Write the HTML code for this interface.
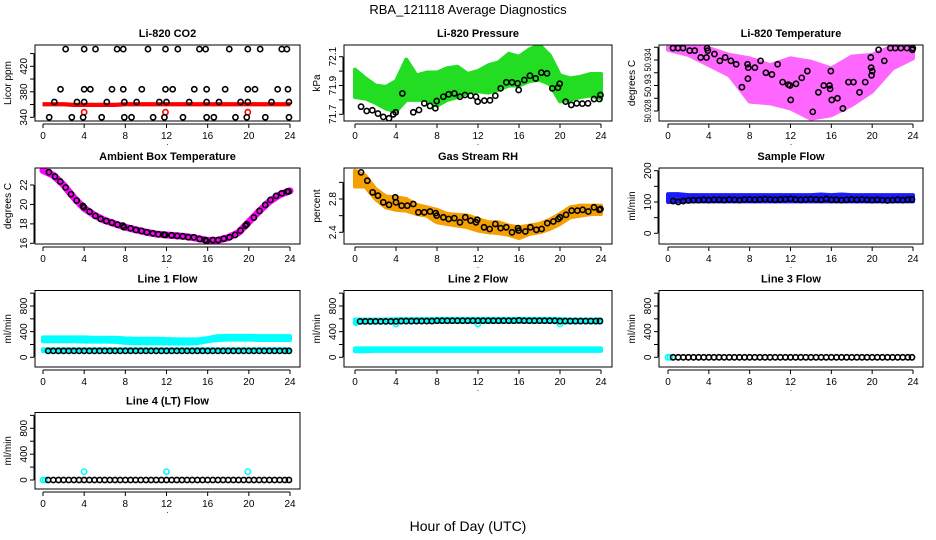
<!DOCTYPE html>
<html><head><meta charset="utf-8"><style>
html,body{margin:0;padding:0;background:#fff;}
svg{display:block;font-family:"Liberation Sans",sans-serif;}
</style></head><body>
<svg id="chart" width="936" height="540" viewBox="0 0 936 540" xmlns="http://www.w3.org/2000/svg">
<rect width="936" height="540" fill="#fff"/>
<text x="468" y="14" font-size="13" text-anchor="middle">RBA_121118  Average Diagnostics</text>
<text x="468" y="531" font-size="14" text-anchor="middle">Hour of Day (UTC)</text>
</svg>
<script>
// ---------- data ----------
const bandHours = [0,1,2,3,4,5,6,7,8,9,10,11,12,13,14,15,16,17,18,19,20,21,22,23,24];
const flowHours = [0.5,1,1.5,2,2.5,3,3.5,4,4.5,5,5.5,6,6.5,7,7.5,8,8.5,9,9.5,10,10.5,11,11.5,12,12.5,13,13.5,14,14.5,15,15.5,16,16.5,17,17.5,18,18.5,19,19.5,20,20.5,21,21.5,22,22.5,23,23.5,23.9];

// CO2
const co2TopHours = [2.2,4.0,5.1,7.2,7.8,10.2,11.9,13.1,15.2,15.8,18.1,19.9,21.1,23.2,23.7];
const co2TopVals = [447,447,447,447,447,447,447,447,447,447,447,447,447,447,447];
const co2UpHours = [1.7,4.0,4.6,6.7,7.8,9.6,11.9,12.6,14.7,15.9,17.7,19.9,20.6,22.8,23.8];
const co2UpVals = [384,384,384,384,384,384,384,384,384,384,384,384,384,384,384];
const co2MidHours = [1.1,3.3,4.0,6.2,7.9,9.1,11.3,12.0,14.2,15.9,17.1,19.2,19.9,22.2,23.9];
const co2MidVals = [364,364,364,364,364,364,364,364,364,364,364,364,364,364,364];
const co2LowHours = [0.6,2.8,3.9,5.7,7.9,8.6,10.7,11.8,13.6,15.9,16.6,18.7,19.8,21.6,23.9];
const co2LowVals = [340,340,340,340,340,340,340,340,340,340,340,340,340,340,340];
const co2RedUpper = [363,363,363,362,362,362,362,362,363,363,363,363,363,363,363,363,363,363,363,363,363,363,363,363,363];
const co2RedLower = [358,358,358,357,357,357,357,357,358,358,358,358,358,358,358,358,358,358,358,358,358,358,358,358,358];
const co2RedPtHours = [4.0,11.9,19.9];
const co2RedPtVals = [348,348,348];

// Pressure
const presUpper = [72.01,71.95,71.9,71.89,71.93,72.08,71.97,71.99,71.99,72.02,72.03,71.98,72.0,72.04,72.06,72.12,72.1,72.15,72.18,72.11,71.97,71.95,71.96,71.98,71.98];
const presLower = [71.82,71.81,71.78,71.74,71.72,71.8,71.8,71.8,71.76,71.8,71.82,71.85,71.86,71.85,71.87,71.9,71.9,71.93,71.94,71.91,71.79,71.8,71.82,71.83,71.81];
const presHours = [0.59,1.14,1.69,2.24,2.76,3.32,3.74,3.97,4.62,5.69,6.24,6.76,7.32,7.84,7.97,8.62,9.14,9.69,10.24,10.73,11.28,11.8,11.97,12.62,13.17,13.69,14.21,14.76,15.32,15.87,15.97,16.52,17.07,17.63,18.18,18.73,19.25,19.8,19.97,20.55,21.1,21.63,22.18,22.73,23.32,23.84,23.95];
const presVals = [71.753,71.723,71.728,71.705,71.682,71.672,71.70,71.714,71.845,71.714,71.73,71.776,71.758,71.742,71.792,71.822,71.839,71.845,71.822,71.834,71.829,71.822,71.788,71.795,71.797,71.829,71.88,71.922,71.922,71.915,71.869,71.938,71.968,71.949,71.989,71.984,71.88,71.885,71.912,71.788,71.765,71.776,71.774,71.776,71.806,71.806,71.834];

// Li-820 temperature
const tempBandHours = [0,2,4,6,8,10,12,14,16,18,20,22,24];
const tempUpper = [50.9356,50.9356,50.9354,50.9346,50.9342,50.9334,50.9342,50.9338,50.9330,50.9344,50.9346,50.9356,50.9356];
const tempLower = [50.9352,50.9346,50.9334,50.9322,50.9291,50.9289,50.9283,50.9271,50.9275,50.9287,50.9303,50.9330,50.9342];
const tempHours = [0.49,0.98,1.47,2.13,2.62,3.21,3.77,3.83,3.9,4.55,5.08,5.6,6.16,6.68,7.24,7.79,7.83,7.86,8.51,9.07,9.59,10.18,10.74,11.23,11.79,11.95,12.02,12.54,13.1,13.65,14.18,14.73,15.26,15.82,15.88,15.95,16.04,16.6,17.13,17.68,18.17,18.76,19.32,19.87,19.9,19.94,20.01,20.63,21.19,21.78,22.27,22.82,23.41,23.94,23.98];
const tempVals = [50.9354,50.9354,50.9354,50.9351,50.9351,50.9343,50.9343,50.9354,50.9351,50.9347,50.9339,50.9343,50.9339,50.9335,50.9308,50.9335,50.9318,50.9331,50.9331,50.9339,50.9325,50.9323,50.9335,50.9314,50.9311,50.9310,50.9293,50.9312,50.9319,50.9327,50.9279,50.9302,50.9310,50.9310,50.9306,50.9327,50.9293,50.9295,50.9283,50.9314,50.9314,50.9302,50.9314,50.9343,50.9331,50.9322,50.9327,50.9352,50.9339,50.9354,50.9354,50.9354,50.9354,50.9352,50.9354];

// Ambient box temperature
const ambBand = [23.5,23.0,22.0,20.7,19.6,18.9,18.35,18.0,17.65,17.4,17.15,16.95,16.85,16.78,16.68,16.5,16.3,16.32,16.58,17.1,18.2,19.3,20.3,21.0,21.4];
const ambHours = [0.58,1.17,1.68,2.2,2.72,3.27,3.88,3.98,4.53,5.08,5.6,6.15,6.7,7.25,7.77,7.86,8.51,9.03,9.58,10.1,10.68,11.2,11.75,11.88,12.49,13.04,13.59,14.11,14.66,15.21,15.76,15.89,16.5,17.02,17.57,18.12,18.67,19.19,19.68,19.81,20.49,21.04,21.59,22.1,22.65,23.2,23.72,23.85];
const ambVals = [23.32,22.87,22.36,21.74,21.05,20.4,19.85,19.71,19.26,18.82,18.51,18.3,18.13,17.92,17.82,17.65,17.55,17.37,17.27,17.13,17.03,16.93,16.89,16.86,16.82,16.76,16.72,16.62,16.62,16.45,16.34,16.24,16.34,16.34,16.48,16.62,16.86,17.31,17.82,17.96,18.65,19.33,19.95,20.47,20.88,21.15,21.33,21.33];

// Gas stream RH
const rhUpper = [3.14,3.08,2.92,2.83,2.82,2.8,2.73,2.7,2.67,2.62,2.61,2.6,2.56,2.52,2.52,2.48,2.46,2.48,2.5,2.55,2.62,2.7,2.72,2.72,2.72];
const rhLower = [2.95,2.95,2.8,2.7,2.67,2.66,2.62,2.6,2.52,2.5,2.48,2.46,2.42,2.4,2.39,2.37,2.33,2.38,2.4,2.44,2.5,2.58,2.6,2.62,2.62];
const rhHours = [0.59,1.2,1.72,2.24,2.76,3.32,3.93,4.0,4.55,5.1,5.69,6.18,6.76,7.32,7.87,7.97,8.62,9.14,9.69,10.24,10.76,11.28,11.8,11.93,12.59,13.14,13.69,14.21,14.76,15.32,15.9,15.97,16.62,17.11,17.69,18.21,18.76,19.35,19.84,20.0,20.59,21.14,21.69,22.21,22.76,23.32,23.84,23.95];
const rhVals = [3.12,3.02,2.88,2.84,2.76,2.73,2.82,2.76,2.72,2.72,2.74,2.64,2.64,2.65,2.63,2.6,2.58,2.56,2.57,2.52,2.58,2.54,2.52,2.55,2.46,2.44,2.5,2.45,2.46,2.4,2.45,2.42,2.41,2.46,2.43,2.44,2.51,2.53,2.56,2.58,2.61,2.66,2.66,2.67,2.65,2.7,2.67,2.68];

// Sample flow
const sampleUpper = [125,125,122,122,122,122,122,122,122,122,122,122,122,122,122,124,122,124,122,122,122,122,122,122,122];
const sampleLower = [100,102,102,102,102,102,102,102,102,102,102,102,102,102,102,102,102,102,102,102,102,102,102,102,102];
const sampleVals = [103,100,103,105,106,106,107,106,107,107,106,108,107,106,108,108,107,108,109,108,107,108,109,110,108,107,108,109,108,107,110,107,107,106,107,108,107,108,107,106,107,106,105,106,107,106,108,108];

// Line flows
const line1CyanUpper = [310,310,310,310,310,305,305,305,295,290,290,290,285,280,280,280,300,330,335,335,335,330,330,330,330];
const line1CyanLower = [250,250,250,250,245,245,245,240,225,220,220,220,215,215,215,220,250,270,275,275,275,270,270,270,270];
const line1LowUpper = [125,125,125,125,125,125,125,125,125,125,125,125,125,125,125,125,125,125,125,125,125,125,125,125,125];
const line1LowLower = [95,95,95,95,95,95,95,95,95,95,95,95,95,95,95,95,95,95,95,95,95,95,95,95,95];
const line1Black = [100,100,100,100,100,100,100,100,100,100,100,100,100,100,100,100,100,100,100,100,100,100,100,100,100,100,100,100,100,100,100,100,100,100,100,100,100,100,100,100,100,100,100,100,100,100,100,100];

const line2CyanUpper = [590,590,590,590,595,595,595,595,600,600,600,600,600,600,600,600,600,600,600,600,595,590,590,590,590];
const line2CyanLower = [540,545,545,545,545,545,550,550,550,550,550,550,550,550,550,550,550,550,550,550,545,545,545,545,545];
const line2LowUpper = [140,140,140,140,140,140,140,140,140,140,140,140,140,140,140,140,140,140,140,140,140,140,140,140,140];
const line2LowLower = [95,95,100,100,100,100,100,100,100,100,100,100,100,100,100,100,100,100,100,100,100,100,100,100,100];
const line2DipHours = [0.1,4.0,12.0,20.0];
const line2DipVals = [540,520,520,520];
const line2Black = [560,560,560,560,560,560,560,560,565,565,565,565,565,565,565,570,570,570,570,570,570,570,570,570,570,570,570,570,570,570,570,575,570,570,570,570,570,570,570,565,565,565,565,565,565,565,565,565];

const line3Black = [0,0,0,0,0,0,0,0,0,0,0,0,0,0,0,0,0,0,0,0,0,0,0,0,0,0,0,0,0,0,0,0,0,0,0,0,0,0,0,0,0,0,0,0,0,0,0,0];
const line3CyanHours = [0,0.2];
const line3CyanVals = [0,0];

const line4Black = [0,0,0,0,0,0,0,0,0,0,0,0,0,0,0,0,0,0,0,0,0,0,0,0,0,0,0,0,0,0,0,0,0,0,0,0,0,0,0,0,0,0,0,0,0,0,0,0];
const line4CyanHours = [0,0.2,4.0,12.0,19.9];
const line4CyanVals = [0,0,130,130,130];

// tick arrays
const xTicks = [0,4,8,12,16,20,24];
const co2Ticks = [340,360,380,400,420,440];
const co2Labels = [340,380,420];
const presTicks = [71.7,71.8,71.9,72.0,72.1];
const presLabels = [71.7,71.9,72.1];
const tempTicks = [50.928,50.9295,50.931,50.9325,50.934,50.9355];
const tempLabels = [50.928,50.931,50.934];
const tempLabelText = ["50.928","50.93","50.934"];
const ambTicks = [16,18,20,22];
const rhTicks = [2.4,2.6,2.8,3.0];
const rhLabels = [2.4,2.8];
const sampleTicks = [0,50,100,150,200];
const sampleLabels = [0,100,200];
const flowTicks = [0,200,400,600,800,1000];
const flowLabels = [0,400,800];

// ---------- drawing ----------
const NS = "http://www.w3.org/2000/svg";
const svg = document.getElementById("chart");
const colL = [35,344,659], colR = [300,612,923], colX0 = [43,355,668], colX24 = [290,601,913];
const rowT = [45,168,290.5,412.5], rowB = [121,244,367,489];

function mk(tag, attrs, parent) {
  const e = document.createElementNS(NS, tag);
  for (const k in attrs) e.setAttribute(k, attrs[k]);
  (parent || svg).appendChild(e);
  return e;
}

function panel(name, col, row, title, ylab, cal, ticks, labels, labelText) {
  const g = mk("g", {});
  
  
  const L = colL[col], R = colR[col], T = rowT[row], B = rowB[row];
  const x = h => colX0[col] + (colX24[col] - colX0[col]) * h / 24;
  const y = v => cal[1] + (cal[3] - cal[1]) * (v - cal[0]) / (cal[2] - cal[0]);
  const t = mk("text", {x: (L + R) / 2, y: T - 8, "font-size": 11, "font-weight": "bold", "text-anchor": "middle"}, g);
  t.textContent = title;
  
  
  const yt = mk("text", {transform: `translate(${L - 24},${(T + B) / 2}) rotate(-90)`, "font-size": 10, "text-anchor": "middle"}, g);
  yt.textContent = ylab;
  
  
  const xa = mk("g", {stroke: "#000", "stroke-width": 1}, g);
  
  
  mk("line", {x1: x(xTicks[0]), x2: x(xTicks[xTicks.length - 1]), y1: B + 3, y2: B + 3}, xa);
  xTicks.forEach(v => {
    mk("line", {x1: x(v), x2: x(v), y1: B + 3, y2: B + 7}, xa);
    const lt = mk("text", {x: x(v), y: B + 18, "font-size": 10, "text-anchor": "middle", stroke: "none"}, xa);
    lt.textContent = v;
    
    
  });
  const dot = mk("text", {x: (L + R) / 2, y: B + 24, "font-size": 8, "text-anchor": "middle"}, g);
  dot.textContent = ".";
  const ya = mk("g", {stroke: "#000", "stroke-width": 1}, g);
  
  
  mk("line", {x1: L - 1, x2: L - 1, y1: y(ticks[0]), y2: y(ticks[ticks.length - 1])}, ya);
  ticks.forEach(v => mk("line", {x1: L - 5, x2: L - 1, y1: y(v), y2: y(v)}, ya));
  labels.forEach((v, i) => {
    const attrs = {transform: `translate(${L - 8},${y(v)}) rotate(-90)`, "font-size": 10, "text-anchor": "middle", stroke: "none"};
    if (labelText) { attrs.textLength = 23; attrs.lengthAdjust = "spacingAndGlyphs"; attrs["font-size"] = 9; }
    const lt = mk("text", attrs, ya);
    lt.textContent = labelText ? labelText[i] : v;
    
    
  });
  const clipId = "clip" + name;
  const cp = mk("clipPath", {id: clipId}, g);
  mk("rect", {x: L, y: T, width: R - L, height: B - T}, cp);
  const plot = mk("g", {"clip-path": `url(#${clipId})`}, g);
  return {g, plot, x, y, L, R, T, B};
}

function band(P, name, hours, up, lo, color, op, sw) {
  let pts = hours.map((h, i) => `${P.x(h)},${P.y(up[i])}`);
  for (let i = hours.length - 1; i >= 0; i--) pts.push(`${P.x(hours[i])},${P.y(lo[i])}`);
  const e = mk("polygon", {points: pts.join(" "), fill: color, stroke: color, "stroke-width": sw === undefined ? 4 : sw, "stroke-linejoin": "round", opacity: op || 1}, P.plot);
  
  
}
function thickLine(P, name, hours, vals, color, w) {
  const e = mk("polyline", {points: hours.map((h, i) => `${P.x(h)},${P.y(vals[i])}`).join(" "), fill: "none", stroke: color, "stroke-width": w, "stroke-linecap": "round", "stroke-linejoin": "round"}, P.plot);
  
  
}
function circles(P, name, hours, vals, color) {
  const grp = mk("g", {}, P.plot);
  
  
  hours.forEach((h, i) => {
    const c = mk("circle", {cx: P.x(h), cy: P.y(vals[i]), r: 2.6, fill: "none", stroke: color, "stroke-width": 1.6}, grp);
    
    
  });
}
function box(P) {
  const b = mk("rect", {x: P.L, y: P.T, width: P.R - P.L, height: P.B - P.T, fill: "none", stroke: "#000", "stroke-width": 1}, P.g);
  
  
}

let P = panel("co2-panel", 0, 0, "Li-820 CO2", "Licor ppm", [340, 117.3, 420, 66.3], co2Ticks, co2Labels);
band(P, "co2-red-band", bandHours, co2RedUpper, co2RedLower, "#ff0000", 1, 1);
circles(P, "co2-red-points", co2RedPtHours, co2RedPtVals, "#ff0000");
circles(P, "co2-black-top", co2TopHours, co2TopVals, "#000");
circles(P, "co2-black-upper", co2UpHours, co2UpVals, "#000");
circles(P, "co2-black-mid", co2MidHours, co2MidVals, "#000");
circles(P, "co2-black-low", co2LowHours, co2LowVals, "#000");
box(P);

P = panel("pressure-panel", 1, 0, "Li-820 Pressure", "kPa", [71.7, 114.3, 72.1, 56.7], presTicks, presLabels);
band(P, "pressure-green-band", bandHours, presUpper, presLower, "#22dd22");
circles(P, "pressure-black-points", presHours, presVals, "#000");
box(P);

P = panel("li820-temp-panel", 2, 0, "Li-820 Temperature", "degrees C", [50.928, 111, 50.934, 60], tempTicks, tempLabels, tempLabelText);
band(P, "temp-magenta-band", tempBandHours, tempUpper, tempLower, "#ff33ff", 0.75);
circles(P, "temp-black-points", tempHours, tempVals, "#000");
box(P);

P = panel("ambient-temp-panel", 0, 1, "Ambient Box Temperature", "degrees C", [16, 243.3, 22, 185], ambTicks, ambTicks);
thickLine(P, "ambient-magenta-line", bandHours, ambBand, "#ff00ff", 7);
circles(P, "ambient-black-points", ambHours, ambVals, "#000");
box(P);

P = panel("rh-panel", 1, 1, "Gas Stream RH", "percent", [2.4, 232.3, 2.8, 199], rhTicks, rhLabels);
band(P, "rh-orange-band", bandHours, rhUpper, rhLower, "#f5a000");
circles(P, "rh-black-points", rhHours, rhVals, "#000");
box(P);

P = panel("sample-flow-panel", 2, 1, "Sample Flow", "ml/min", [0, 233.3, 200, 170.7], sampleTicks, sampleLabels);
band(P, "sample-blue-band", bandHours, sampleUpper, sampleLower, "#1a1aff");
circles(P, "sample-black-points", flowHours, sampleVals, "#000");
box(P);

P = panel("line1-flow-panel", 0, 2, "Line 1 Flow", "ml/min", [0, 357.3, 800, 306], flowTicks, flowLabels);
band(P, "line1-cyan-band", bandHours, line1CyanUpper, line1CyanLower, "#00ffff");
band(P, "line1-cyan-low-band", bandHours, line1LowUpper, line1LowLower, "#00ffff");
circles(P, "line1-black-points", flowHours, line1Black, "#000");
box(P);

P = panel("line2-flow-panel", 1, 2, "Line 2 Flow", "ml/min", [0, 357.3, 800, 306], flowTicks, flowLabels);
band(P, "line2-cyan-band", bandHours, line2CyanUpper, line2CyanLower, "#00ffff");
band(P, "line2-cyan-low-band", bandHours, line2LowUpper, line2LowLower, "#00ffff");
circles(P, "line2-cyan-dips", line2DipHours, line2DipVals, "#00ffff");
circles(P, "line2-black-points", flowHours, line2Black, "#000");
box(P);

P = panel("line3-flow-panel", 2, 2, "Line 3 Flow", "ml/min", [0, 357.3, 800, 306], flowTicks, flowLabels);
circles(P, "line3-cyan-points", line3CyanHours, line3CyanVals, "#00ffff");
circles(P, "line3-black-points", flowHours, line3Black, "#000");
box(P);

P = panel("line4-flow-panel", 0, 3, "Line 4 (LT) Flow", "ml/min", [0, 480, 800, 428.3], flowTicks, flowLabels);
circles(P, "line4-cyan-points", line4CyanHours, line4CyanVals, "#00ffff");
circles(P, "line4-black-points", flowHours, line4Black, "#000");
box(P);
</script>
</body></html>
